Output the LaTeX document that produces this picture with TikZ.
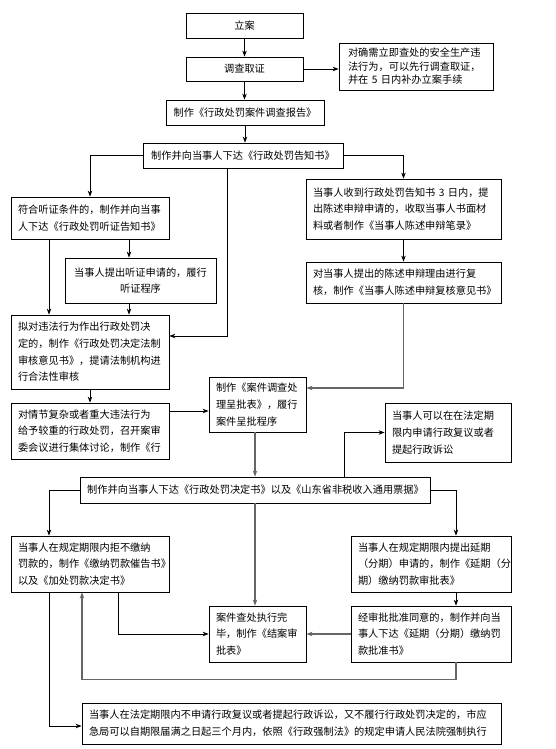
\documentclass[tikz,border=0pt]{standalone}
\usepackage{fontspec}
\newfontfamily\cjk{Noto Sans CJK SC}
\usetikzlibrary{arrows.meta}

\begin{document}
\begin{tikzpicture}[x=1pt, y=-1pt,
  every node/.style={font=\cjk\fontsize{10.2}{16.7}\selectfont},
  box/.style={draw, rectangle, line width=0.8pt, inner xsep=7pt, inner ysep=2pt},
  arr/.style={-{Stealth[length=6pt,width=4.5pt]}, line width=0.8pt},
  arrg/.style={arr, draw=black!60, line width=1.1pt}]

\useasboundingbox (0,0) rectangle (556,749);

% Nodes (top part)
\node (lian) [box, minimum width=117pt, minimum height=25pt] at (244.5,25.5) {立案};
\node (diaocha) [box, minimum width=117pt, minimum height=24pt] at (244.5,69) {调查取证};
\node (note1) [box, minimum width=154pt, minimum height=47pt, text width=136pt, align=left, font=\cjk\fontsize{10.2}{13.5}\selectfont] at (416,66.5) {对确需立即查处的安全生产违\\法行为，可以先行调查取证，\\并在 5 日内补办立案手续};
\node (report) [box, minimum width=158pt, minimum height=25pt] at (245,112.5) {制作《行政处罚案件调查报告》};
\node (notice) [box, minimum width=200pt, minimum height=25pt] at (243,155.5) {制作并向当事人下达《行政处罚告知书》};

% Nodes (hearing / statement)
\node (hearingcond) [box, minimum width=158pt, minimum height=42pt, text width=144pt, align=left] at (90,218) {符合听证条件的，制作并向当事\\人下达《行政处罚听证告知书》};
\node (statement) [box, minimum width=195pt, minimum height=60pt, text width=181pt, align=left] at (403.5,209) {当事人收到行政处罚告知书 3 日内，提\\出陈述申辩申请的，收取当事人书面材\\料或者制作《当事人陈述申辩笔录》};
\node (hearing) [box, minimum width=151pt, minimum height=45pt, text width=137pt, align=center] at (140.5,280.5) {当事人提出听证申请的，履行\\听证程序};
\node (review) [box, minimum width=195pt, minimum height=41pt, text width=181pt, align=left] at (403.5,282.5) {对当事人提出的陈述申辩理由进行复\\核，制作《当事人陈述申辩复核意见书》};
\node (legalreview) [box, minimum width=158pt, minimum height=74pt, text width=144pt, align=left] at (90,352) {拟对违法行为作出行政处罚决\\定的，制作《行政处罚决定法制\\审核意见书》，提请法制机构进\\行合法性审核};
\node (collective) [box, minimum width=158pt, minimum height=56pt, text width=144pt, align=left] at (90,431) {对情节复杂或者重大违法行为\\给予较重的行政处罚，召开案审\\委会议进行集体讨论，制作《行};
\node (approval) [box, minimum width=97pt, minimum height=55pt, text width=83pt, align=left] at (257.5,404.5) {制作《案件调查处\\理呈批表》，履行\\案件呈批程序};
\node (appeal) [box, minimum width=126pt, minimum height=59pt, text width=112pt, align=left] at (448,432.5) {当事人可以在在法定期\\限内申请行政复议或者\\提起行政诉讼};

% Nodes (decision and after)
\node (decision) [box, minimum width=347pt, minimum height=26pt] at (255.5,490) {制作并向当事人下达《行政处罚决定书》以及《山东省非税收入通用票据》};
\node (refuse) [box, minimum width=158pt, minimum height=56pt, text width=144pt, align=left] at (90,564) {当事人在规定期限内拒不缴纳\\罚款的，制作《缴纳罚款催告书》\\以及《加处罚款决定书》};
\node (delay) [box, minimum width=160pt, minimum height=56pt, text width=146pt, align=left] at (431,564) {当事人在规定期限内提出延期\\（分期）申请的，制作《延期（分\\期）缴纳罚款审批表》};
\node (close) [box, minimum width=97pt, minimum height=56pt, text width=83pt, align=left] at (257.5,634) {案件查处执行完\\毕，制作《结案审\\批表》};
\node (delayok) [box, minimum width=160pt, minimum height=56pt, text width=146pt, align=left] at (431,634) {经审批批准同意的，制作并向当\\事人下达《延期（分期）缴纳罚\\款批准书》};
\node (enforce) [box, minimum width=419pt, minimum height=41pt, text width=405pt, align=left] at (291.5,723.5) {当事人在法定期限内不申请行政复议或者提起行政诉讼，又不履行行政处罚决定的，市应\\急局可以自期限届满之日起三个月内，依照《行政强制法》的规定申请人民法院强制执行};

% Arrows (top part)
\draw[arr] (lian) -- (diaocha);
\draw[arr] (diaocha.east) -- (diaocha.east -| note1.west);
\draw[arr] (diaocha.south) -- (diaocha.south |- report.north);
\draw[arr] (report.south) -- (report.south |- notice.north);
\draw[arr] (notice.west) -| (hearingcond.north);
\draw[arr] (notice.east) -| (statement.north);
\draw[arr] ([xshift=-16pt]notice.south) |- ([yshift=16pt]legalreview.east);

% Arrows (hearing / statement)
\draw[arr] ([xshift=39pt]hearingcond.south) -- ([xshift=39pt]hearingcond.south |- hearing.north);
\draw[arr] ([xshift=-41pt]hearingcond.south) -- ([xshift=-41pt]hearingcond.south |- legalreview.north);
\draw[arr] ([xshift=-11.5pt]hearing.south) -- ([xshift=-11.5pt]hearing.south |- legalreview.north);
\draw[arr] (statement.south) -- (statement.south |- review.north);
\draw[arrg] (review.south) |- ([yshift=16.5pt]approval.east);
\draw[arr] (legalreview.south) -- (legalreview.south |- collective.north);
\draw[arr] ([yshift=20pt]collective.east) -- ([yshift=20pt]collective.east -| approval.west);
\draw[arrg] ([xshift=-2.5pt]approval.south) -- ([xshift=-2.5pt]approval.south |- decision.north);
\draw[arr] ([xshift=88.5pt]decision.north) |- (appeal.west);

% Arrows (decision and after)
\draw[arr] (decision.west) -| ([xshift=-41pt]refuse.north);
\draw[arr] (decision.east) -| ([xshift=25pt]delay.north);
\draw[arrg] ([xshift=-2.5pt]close.north |- decision.south) -- ([xshift=-2.5pt]close.north);
\draw[arr] ([xshift=25pt]delay.south) -- ([xshift=25pt]delayok.north);
\draw[arrg] (delayok.west) -- (close.east);
\draw[arr] ([xshift=28pt]refuse.south) |- (close.west);
\draw[arrg] ([xshift=25pt]delayok.south) -- ++(0,17) -| ([xshift=-8pt]refuse.south);
\draw[arr] ([xshift=-41pt]refuse.south) |- ([yshift=-2.5pt]enforce.west);

\end{tikzpicture}
\end{document}
